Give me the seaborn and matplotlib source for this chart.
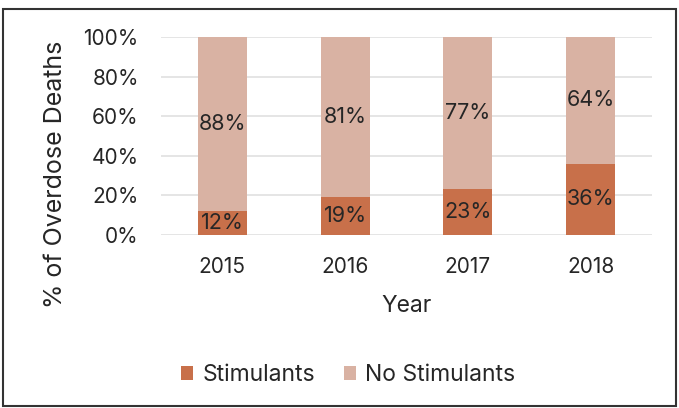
import numpy as np
import matplotlib
matplotlib.use("Agg")
import matplotlib.pyplot as plt
import pandas as pd
import seaborn as sns
from matplotlib.patches import Rectangle

years = ["2015", "2016", "2017", "2018"]
stimulants = [12, 19, 23, 36]
no_stimulants = [88, 81, 77, 64]

c_stim = "#C8704A"
c_nostim = "#D9B2A3"

sns.set_style("white")
plt.rcParams["font.family"] = ["Inter", "DejaVu Sans"]

df = pd.DataFrame({"Year": years, "Stimulants": stimulants, "No Stimulants": no_stimulants})
df["Total"] = df["Stimulants"] + df["No Stimulants"]

fig = plt.figure(figsize=(6.79, 4.08), dpi=100)
ax = fig.add_axes([161 / 679, 1 - 235 / 408, 491 / 679, 198 / 408])

# stacked: draw totals first, then bottom segment on top
sns.barplot(data=df, x="Year", y="Total", color=c_nostim, width=0.4, ax=ax, saturation=1,
            label="No Stimulants", linewidth=0)
sns.barplot(data=df, x="Year", y="Stimulants", color=c_stim, width=0.4, ax=ax, saturation=1,
            label="Stimulants", linewidth=0)

txt = "#262626"
for i, (s, n) in enumerate(zip(stimulants, no_stimulants)):
    ax.text(i, s / 2, f"{s}%", ha="center", va="center", fontsize=15.5, color=txt)
    ax.text(i, s + n / 2, f"{n}%", ha="center", va="center", fontsize=15.5, color=txt)

ax.set_ylim(0, 100)
ax.set_xlim(-0.5, 3.5)
ax.set_yticks(np.arange(0, 101, 20))
ax.set_yticklabels([f"{v}%" for v in range(0, 101, 20)])
ax.yaxis.grid(True, color="#E0E0E0", linewidth=1.2)
ax.set_axisbelow(True)
for sp in ax.spines.values():
    sp.set_visible(False)
ax.tick_params(axis="both", length=0, labelsize=15, labelcolor=txt)
ax.tick_params(axis="x", pad=16)
ax.tick_params(axis="y", pad=16)
ax.set_xlabel("Year", fontsize=16.5, color=txt, labelpad=13)
ax.set_ylabel("")
fig.text(56 / 679, 1 - 174 / 408, "% of Overdose Deaths", rotation=90, ha="center", va="center",
         fontsize=18, color=txt)

handles, labels = ax.get_legend_handles_labels()
order = [labels.index("Stimulants"), labels.index("No Stimulants")]
fig.legend([handles[k] for k in order], [labels[k] for k in order],
           loc="center", bbox_to_anchor=(348 / 679, 1 - 375 / 408), ncol=2,
           frameon=False, fontsize=16.5, handlelength=0.55, handleheight=0.55,
           columnspacing=1.25, handletextpad=0.4)
if ax.get_legend() is not None:
    ax.get_legend().remove()

fig.patches.append(Rectangle((0.004, 0.004), 0.992, 0.975, transform=fig.transFigure,
                             fill=False, edgecolor="#333333", linewidth=1.5))

fig.savefig("out.png", dpi=100)
